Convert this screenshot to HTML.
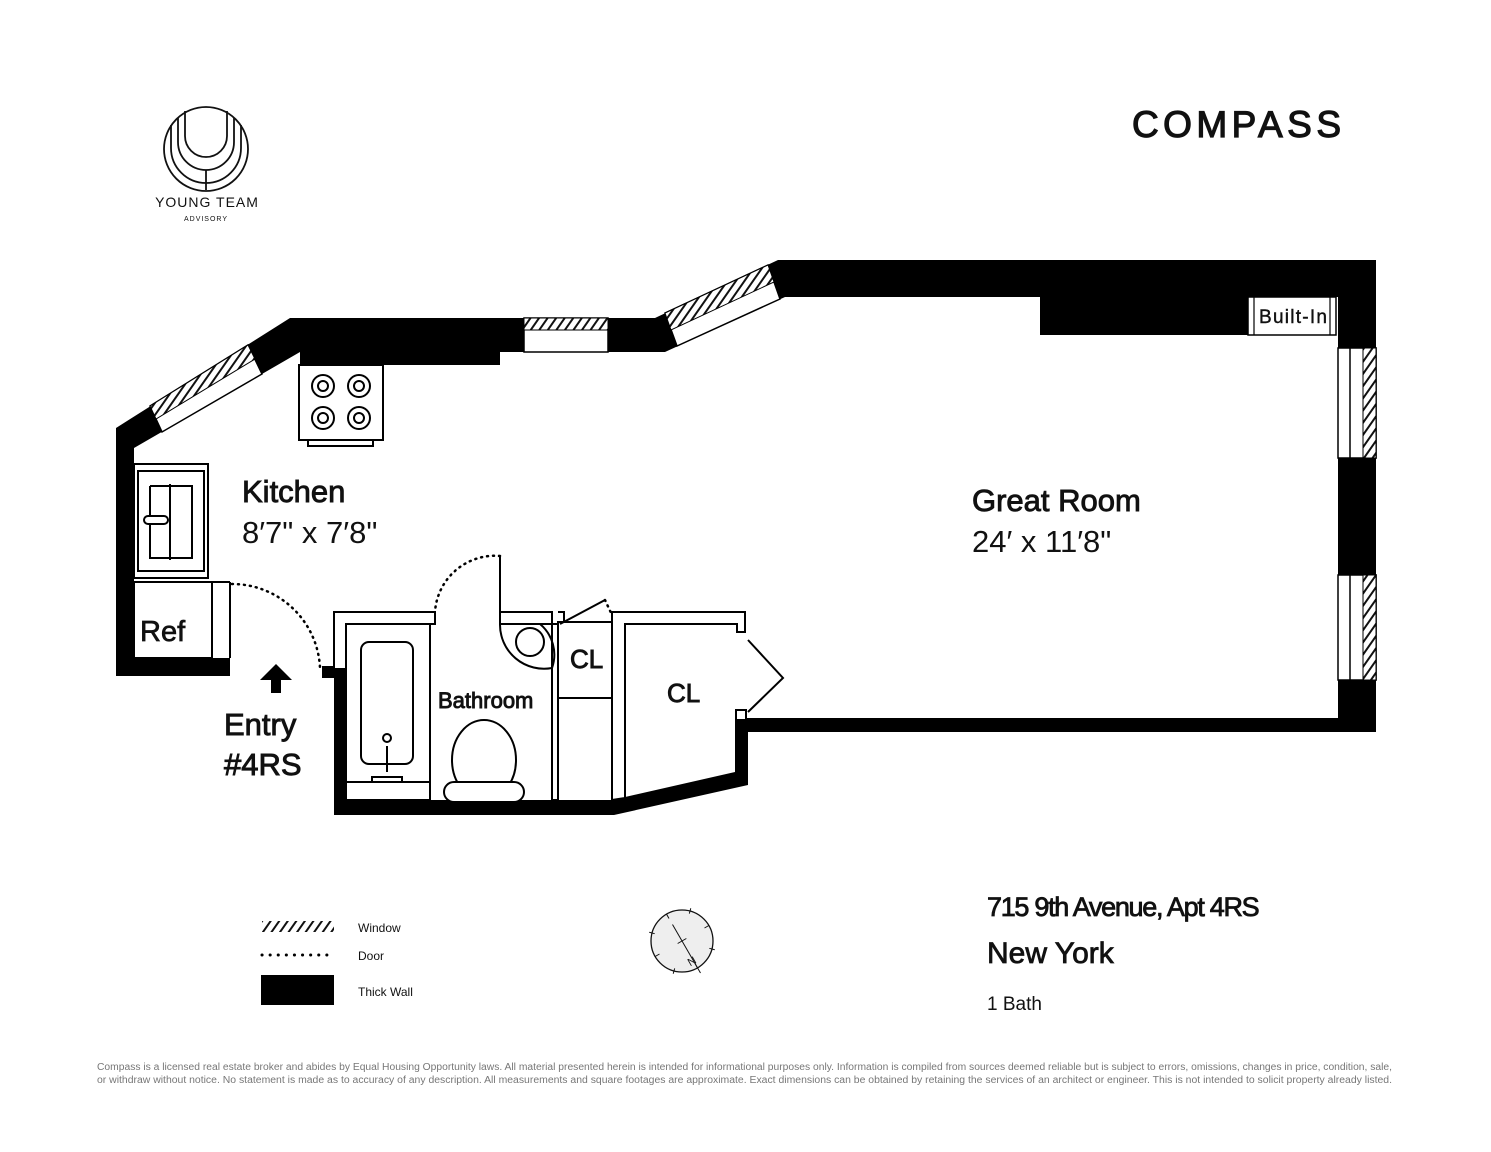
<!DOCTYPE html>
<html><head><meta charset="utf-8"><style>
html,body{margin:0;padding:0;background:#fff;}
svg{display:block;}
text{font-family:"Liberation Sans",sans-serif;fill:#111;}
</style></head><body>
<svg width="1491" height="1152" viewBox="0 0 1491 1152" xmlns="http://www.w3.org/2000/svg">
<defs>
<pattern id="h" width="7" height="7" patternUnits="userSpaceOnUse" patternTransform="rotate(35)">
<rect width="7" height="7" fill="#fff"/><rect width="2" height="7" fill="#111"/>
</pattern>
</defs>

<!-- Young Team logo -->
<g fill="none" stroke="#111" stroke-width="1.8">
<circle cx="206" cy="149" r="42"/>
<path d="M185 111 V136 A21 21 0 0 0 227 136 V111"/>
<path d="M178 118 V142 A28 28 0 0 0 234 142 V118"/>
<path d="M171 125 V148 A35 35 0 0 0 241 148 V125"/>
<line x1="206" y1="170" x2="206" y2="190"/>
</g>
<text x="207" y="207" font-size="14" text-anchor="middle" letter-spacing="1">YOUNG TEAM</text>
<text x="206" y="221" font-size="7" text-anchor="middle" letter-spacing="1">ADVISORY</text>

<!-- Compass logo -->
<text x="1132" y="137" font-size="37" letter-spacing="5" textLength="214" stroke="#111" stroke-width="1.2">COMPASS</text>

<!-- Walls -->
<g fill="#000">
<polygon points="116,428 290,318 655,318 778,260 1376,260 1376,348 1338,348 1338,297 785,297 665,352 500,352 500,365 300,365 300,352 134,448 134,658 230,658 230,676 116,676"/>
<rect x="1040" y="290" width="215" height="45"/>
<rect x="1338" y="458" width="38" height="117"/>
<rect x="1338" y="680" width="38" height="52"/>
<rect x="745" y="718" width="631" height="14"/>
<polygon points="334,668 346,668 346,800 612,800 735,772 735,718 748,718 748,785 614,815 334,815"/>
<rect x="322" y="666" width="12" height="12"/>
</g>

<!-- Windows -->
<polygon points="150,406 248,345 262,374 162,432" fill="#fff" stroke="#000" stroke-width="1.5"/>
<polygon points="150,406 248,345 255,359 156,419" fill="url(#h)" stroke="#000" stroke-width="1"/>
<rect x="524" y="318" width="84" height="34" fill="#fff" stroke="#000" stroke-width="1.5"/>
<rect x="524" y="318" width="84" height="12" fill="url(#h)" stroke="#000" stroke-width="1"/>
<polygon points="665,313 768,265 780,299 677,346" fill="#fff" stroke="#000" stroke-width="1.5"/>
<polygon points="665,313 768,265 774,282 671,330" fill="url(#h)" stroke="#000" stroke-width="1"/>
<rect x="1338" y="348" width="38" height="110" fill="#fff" stroke="#000" stroke-width="1.5"/>
<rect x="1350" y="348" width="26" height="110" fill="#fff" stroke="#000" stroke-width="1.5"/>
<rect x="1363" y="348" width="13" height="110" fill="url(#h)" stroke="#000" stroke-width="1"/>
<rect x="1338" y="575" width="38" height="105" fill="#fff" stroke="#000" stroke-width="1.5"/>
<rect x="1350" y="575" width="26" height="105" fill="#fff" stroke="#000" stroke-width="1.5"/>
<rect x="1363" y="575" width="13" height="105" fill="url(#h)" stroke="#000" stroke-width="1"/>

<!-- Built-in -->
<rect x="1248" y="297" width="88" height="38" fill="#fff" stroke="#000" stroke-width="1.5"/>
<line x1="1254" y1="297" x2="1254" y2="335" stroke="#000" stroke-width="1.2"/>
<line x1="1330" y1="297" x2="1330" y2="335" stroke="#000" stroke-width="1.2"/>
<text x="1259" y="323" font-size="19" textLength="68" stroke="#111" stroke-width="0.4">Built-In</text>

<!-- Kitchen fixtures -->
<g fill="none" stroke="#000" stroke-width="2">
<rect x="299" y="365" width="84" height="75" fill="#fff"/>
<path d="M308 440 V446 H373 V440"/>
<circle cx="323" cy="386" r="11"/><circle cx="323" cy="386" r="5"/>
<circle cx="359" cy="386" r="11"/><circle cx="359" cy="386" r="5"/>
<circle cx="323" cy="418" r="11"/><circle cx="323" cy="418" r="5"/>
<circle cx="359" cy="418" r="11"/><circle cx="359" cy="418" r="5"/>
<rect x="134" y="464" width="74" height="114"/>
<rect x="138" y="471" width="66" height="100"/>
<path d="M170 484 V560 M150 486 H192 V558 H150 V486"/>
<rect x="144" y="516" width="24" height="8" rx="4" fill="#fff"/>
<rect x="134" y="582" width="78" height="76"/>
<line x1="230" y1="582" x2="230" y2="658"/>
<line x1="212" y1="582" x2="230" y2="582"/>
</g>
<text x="140" y="641" font-size="29" stroke="#111" stroke-width="0.7">Ref</text>

<!-- Door swings -->
<g fill="none" stroke="#000" stroke-width="2.5" stroke-dasharray="1 5" stroke-linecap="round">
<path d="M232 584 A88 88 0 0 1 320 668"/>
<path d="M500 556 A60 60 0 0 0 435 612"/>
<path d="M605 600 L612 615"/>
</g>

<!-- Bathroom & closets thin walls -->
<g fill="#fff" stroke="#000" stroke-width="2">
<path d="M334 668 V612 H435 V624 H346 V668"/>
<path d="M500 612 H552 V800 H558 V624 H500 Z"/>
<line x1="500" y1="556" x2="500" y2="612"/>
<path d="M558 612 H564 V624 H558"/>
<rect x="558" y="622" width="54" height="76"/>
<line x1="560" y1="624" x2="605" y2="600"/>
<path d="M612 612 H745 V632 H737 V624 H625 V798 L612 800 Z"/>
<rect x="736" y="710" width="10" height="10"/>
<path d="M748 640 L783 678 L748 712" fill="none"/>
<rect x="346" y="624" width="84" height="176" fill="none"/>
<rect x="361" y="642" width="52" height="122" rx="8"/>
<line x1="346" y1="782" x2="430" y2="782"/>
<circle cx="387" cy="738" r="4"/>
<path d="M387 746 V772 M372 777 H402 V782 H372 Z"/>
<path d="M500 624 H540 A40 40 0 0 1 552 668 A44 44 0 0 1 500 624 Z" fill="none"/>
<circle cx="530" cy="642" r="14" fill="none"/>
<ellipse cx="484" cy="760" rx="32" ry="40"/>
<rect x="444" y="782" width="80" height="20" rx="10"/>
</g>

<!-- Entry arrow -->
<polygon points="260,680 292,680 276,664" fill="#000"/>
<rect x="271" y="679" width="10" height="14" fill="#000"/>

<!-- Labels -->
<g stroke="#111" stroke-width="0.9">
<text x="242" y="502" font-size="31">Kitchen</text>
<text x="972" y="511" font-size="31">Great Room</text>
<text x="224" y="735" font-size="31">Entry</text>
<text x="224" y="775" font-size="31">#4RS</text>
<text x="438" y="708" font-size="22">Bathroom</text>
<text x="570" y="668" font-size="26">CL</text>
<text x="667" y="702" font-size="26">CL</text>
</g>
<text x="242" y="543" font-size="31">8′7" x 7′8"</text>
<text x="972" y="552" font-size="31">24′ x 11′8"</text>

<!-- Legend -->
<rect x="262" y="921" width="72" height="11" fill="url(#h)"/>
<line x1="262" y1="955" x2="334" y2="955" stroke="#000" stroke-width="3" stroke-dasharray="0.1 8" stroke-linecap="round"/>
<rect x="261" y="975" width="73" height="30" fill="#000"/>
<text x="358" y="932" font-size="12">Window</text>
<text x="358" y="960" font-size="12">Door</text>
<text x="358" y="996" font-size="12">Thick Wall</text>

<!-- Compass rose -->
<circle cx="682" cy="941" r="31" fill="#eee" stroke="#111" stroke-width="1.3"/>
<g stroke="#111" stroke-width="1" transform="rotate(-30 682 941)">
<line x1="682" y1="910" x2="682" y2="915"/><line x1="682" y1="967" x2="682" y2="972"/>
<line x1="651" y1="941" x2="656" y2="941"/><line x1="708" y1="941" x2="713" y2="941"/>
<line x1="658" y1="917" x2="662" y2="921"/><line x1="706" y1="917" x2="702" y2="921"/>
<line x1="658" y1="965" x2="662" y2="961"/><line x1="706" y1="965" x2="702" y2="961"/>
<line x1="682" y1="922" x2="682" y2="978"/>
<line x1="677" y1="941" x2="687" y2="941"/>
</g>
<text x="688" y="966" font-size="11" transform="rotate(-30 690 962)">N</text>

<!-- Address -->
<g stroke="#111" stroke-width="0.8">
<text x="987" y="916" font-size="27" letter-spacing="-1.3">715 9th Avenue, Apt 4RS</text>
<text x="987" y="963" font-size="30">New York</text>
</g>
<text x="987" y="1010" font-size="19">1 Bath</text>

<!-- Footer -->
<text x="97" y="1070" font-size="10" style="fill:#777" textLength="1295" lengthAdjust="spacingAndGlyphs">Compass is a licensed real estate broker and abides by Equal Housing Opportunity laws. All material presented herein is intended for informational purposes only. Information is compiled from sources deemed reliable but is subject to errors, omissions, changes in price, condition, sale,</text>
<text x="97" y="1083" font-size="10" style="fill:#777" textLength="1295" lengthAdjust="spacingAndGlyphs">or withdraw without notice. No statement is made as to accuracy of any description. All measurements and square footages are approximate. Exact dimensions can be obtained by retaining the services of an architect or engineer. This is not intended to solicit property already listed.</text>
</svg>
</body></html>
